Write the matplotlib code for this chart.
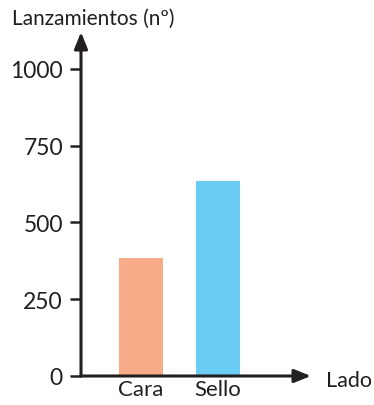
import matplotlib
matplotlib.use("Agg")
import matplotlib.pyplot as plt

categories = ["Cara", "Sello"]
values = [385, 635]
colors = ["#F7AC87", "#6ACBF3"]
yticks = [0, 250, 500, 750, 1000]
ylabel = "Lanzamientos (nº)"
xlabel = "Lado"

plt.rcParams['font.family'] = ['Lato', 'DejaVu Sans']
ink = "#231f20"
fw = 'normal'

W, H = 374, 406
fig = plt.figure(figsize=(W/100, H/100), dpi=100)
x0, x1 = 81, 311
y0, y1 = 377, 33
ax = fig.add_axes([x0/W, (H-y0)/H, (x1-x0)/W, (y0-y1)/H])

pos = list(range(len(categories)))
ax.bar(pos, values, width=0.571, color=colors, zorder=2)
ax.set_xlim(-0.779, 2.208)
ax.set_ylim(0, 1120)

for s in ['top', 'right', 'left', 'bottom']:
    ax.spines[s].set_visible(False)

ax.set_yticks(yticks)
ax.set_yticklabels([str(v) for v in yticks], fontsize=16.5, color=ink, fontweight=fw)
ax.tick_params(axis='y', length=8, width=1.8, color=ink, pad=5)
ax.set_xticks(pos)
ax.set_xticklabels(categories, fontsize=16, color=ink, fontweight=fw)
ax.tick_params(axis='x', length=0, pad=2)

arrow = dict(arrowstyle='-|>,head_length=1.0,head_width=0.4', lw=2.2, color=ink,
             shrinkA=0, shrinkB=0)
ax.annotate('', xy=(0, 1), xytext=(0, 0), xycoords='axes fraction', arrowprops=arrow)
ax.annotate('', xy=(1, 0), xytext=(0, 0), xycoords='axes fraction', arrowprops=arrow)

fig.text(12/W, 1-19/H, ylabel, fontsize=15, color=ink, va='center', ha='left', fontweight=fw)
fig.text(326/W, 1-381/H, xlabel, fontsize=15.5, color=ink, va='center', ha='left', fontweight=fw)

fig.savefig("out.png", dpi=100)
